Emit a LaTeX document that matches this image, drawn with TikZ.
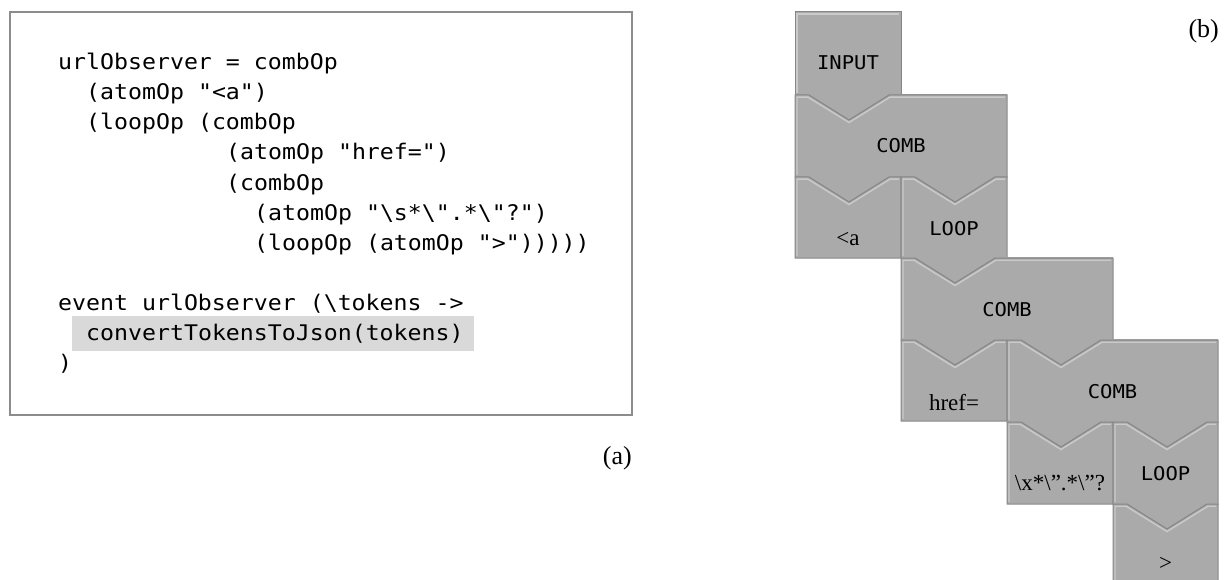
\documentclass[tikz,border=0pt]{standalone}
\usepackage{fontspec}
\setmainfont{Liberation Serif}
\newfontfamily\codefont{DejaVu Sans Mono}[FakeStretch=1.08]

\definecolor{blockgray}{HTML}{AAAAAA}
\definecolor{edgegray}{HTML}{858585}
\definecolor{glowgray}{HTML}{CACACA}
\definecolor{framegray}{HTML}{8C8C8C}
\definecolor{hilite}{HTML}{D9D9D9}

\tikzset{
  blockfill/.style={fill=blockgray},
  blockedge/.style={draw=edgegray, line width=1pt, line join=miter},
  blockglow/.style={draw=glowgray, line width=1.4pt},
  codeframe/.style={draw=framegray, line width=1.3pt},
  codeline/.style={anchor=base west, inner sep=0pt, font=\codefont\fontsize{21.5}{26}\selectfont},
  oplabel/.style={anchor=base, inner sep=0pt, font=\codefont\fontsize{19}{23}\selectfont},
  leaflabel/.style={anchor=base, inner sep=0pt, font=\fontsize{23}{27}\selectfont},
  panellabel/.style={anchor=base east, inner sep=0pt, font=\fontsize{26}{30}\selectfont},
}

% block with a V notch at the top of its first column
% #1 name, #2 left, #3 top, #4 right, #5 bottom, #6 label style, #7 baseline offset, #8 label
\newcommand\pzblock[8]{%
  \fill[blockfill] (#2,{#3-1}) rectangle (#4,#5);
  \draw[blockglow] ({#2+2},{#5-2}) -- ({#2+2},{#3+2.2}) -- ({#2+13},{#3+2.2})
      -- ({#2+54},{#3+27.5}) -- ({#2+95},{#3+2.2}) -- ({#4-2},{#3+2.2});
  \draw[blockedge] (#2,#3) -- ({#2+14},#3) -- ({#2+54},{#3+25}) -- ({#2+94},#3)
      -- (#4,#3) -- (#4,#5) -- (#2,#5) -- cycle;
  \node[#6] (#1) at ({(#2+#4)/2},{#3+#7}) {#8};
}
% first block of the chain, flat top
\newcommand\pzhead[8]{%
  \fill[blockfill] (#2,#3) rectangle (#4,#5);
  \draw[blockglow] ({#2+2},{#5-2}) -- ({#2+2},{#3+2.2}) -- ({#4-2},{#3+2.2});
  \draw[blockedge] (#2,#3) rectangle (#4,#5);
  \node[#6] (#1) at ({(#2+#4)/2},{#3+#7}) {#8};
}

\begin{document}
\begin{tikzpicture}[x=1pt, y=-1pt]
\useasboundingbox (0,0) rectangle (1228,580);
\clip (0,0) rectangle (1228,580);

% ---- (a) code listing ----
\draw[codeframe] (10,12) rectangle (632,415);
\fill[hilite] (72,316) rectangle (474,351);
\node[codeline] (c1)  at (58,70)  {urlObserver = combOp};
\node[codeline] (c2)  at (86,100) {(atomOp "<a")};
\node[codeline] (c3)  at (86,130) {(loopOp (combOp};
\node[codeline] (c4)  at (226,160) {(atomOp "href=")};
\node[codeline] (c5)  at (226,190) {(combOp};
\node[codeline] (c6)  at (254,220) {(atomOp "\textbackslash s*\textbackslash ".*\textbackslash "?")};
\node[codeline] (c7)  at (254,250) {(loopOp (atomOp ">")))))};
\node[codeline] (c8)  at (58,310) {event urlObserver (\textbackslash tokens ->};
\node[codeline] (c9)  at (86,340) {convertTokensToJson(tokens)};
\node[codeline] (c10) at (58,370) {)};
\node[panellabel] (pa) at (632,464) {(a)};

% ---- (b) operator blocks ----
\pzhead{input}{795}{12}{901}{95}{oplabel}{58}{INPUT}
\pzblock{comb1}{795}{95}{1007}{177}{oplabel}{58}{COMB}
\pzblock{lta}{795}{177}{901}{258}{leaflabel}{68}{<a}
\pzblock{loop1}{901}{177}{1007}{258}{oplabel}{58}{LOOP}
\pzblock{comb2}{901}{258}{1113}{340}{oplabel}{58}{COMB}
\pzblock{href}{901}{340}{1007}{421}{leaflabel}{70}{href=}
\pzblock{comb3}{1007}{340}{1218}{422}{oplabel}{58}{COMB}
\pzblock{regex}{1007}{422}{1113}{504}{leaflabel}{68}{\textbackslash x*\textbackslash ”.*\textbackslash ”?}
\pzblock{loop2}{1113}{422}{1218}{504}{oplabel}{58}{LOOP}
\pzblock{gt}{1113}{504}{1218}{590}{leaflabel}{66}{>}
\node[panellabel] (pb) at (1219,38) {(b)};
\end{tikzpicture}
\end{document}
